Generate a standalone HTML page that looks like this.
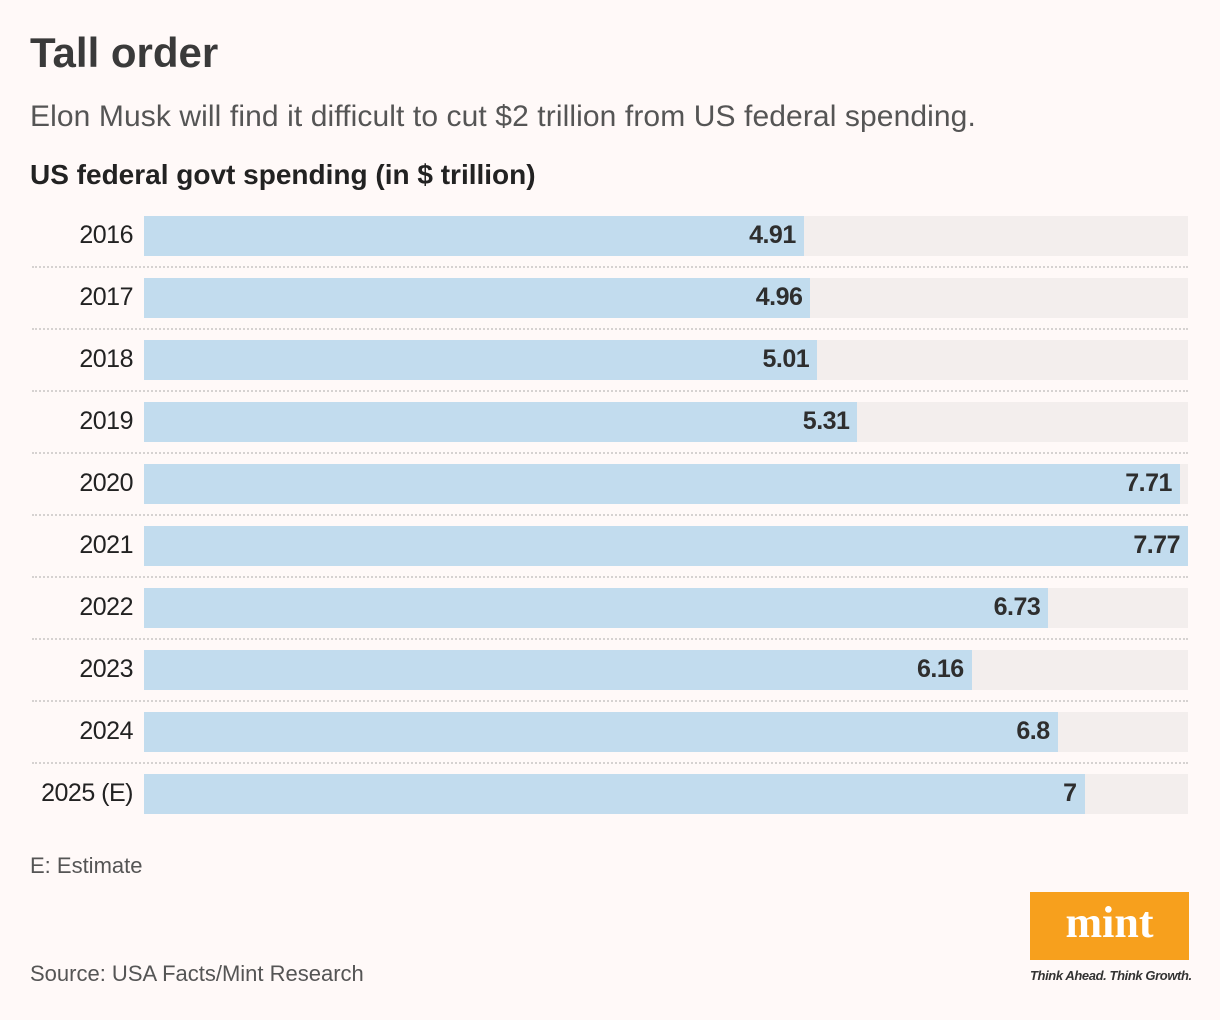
<!DOCTYPE html>
<html><head><meta charset="utf-8"><style>
body{margin:0;width:1220px;height:1020px;background:#fff9f8;font-family:"Liberation Sans",sans-serif;color:#333;position:relative;overflow:hidden}
.abs{position:absolute}
#title{left:30px;top:29px;font-size:42px;font-weight:bold;color:#3a3a3a;letter-spacing:0px}
#sub{left:30px;top:100px;font-size:30px;color:#555;letter-spacing:0.1px}
#ctitle{left:30px;top:159px;font-size:28px;font-weight:bold;color:#222;letter-spacing:0px}
.lab{position:absolute;right:1087px;font-size:25px;color:#222;text-align:right;white-space:nowrap;letter-spacing:-0.5px}
.track{position:absolute;left:144px;width:1044px;height:40px;background:#f3eeed}
.bar{position:absolute;left:144px;height:40px;background:#c2dcee}
.val{position:absolute;font-size:25px;font-weight:bold;color:#2e2e2e;text-align:right;letter-spacing:-0.5px}
.sep{position:absolute;left:32px;width:1156px;border-top:2px dotted #d6d2d1}
#note{left:30px;top:853px;font-size:22px;color:#555}
#src{left:30px;top:961px;font-size:22px;color:#555}
#logo{left:1030px;top:892px;width:159px;height:68px;background:#f7a01d;color:#fff;font-family:"Liberation Serif",serif;font-weight:bold;font-size:44px;text-align:center;line-height:62px}
#tag{left:1030px;top:968px;font-size:13px;font-style:italic;font-weight:bold;color:#333;letter-spacing:-0.4px}
</style></head><body>
<div id="title" class="abs">Tall order</div>
<div id="sub" class="abs">Elon Musk will find it difficult to cut $2 trillion from US federal spending.</div>
<div id="ctitle" class="abs">US federal govt spending (in $ trillion)</div>
<div id="chart"></div>
<div id="note" class="abs">E: Estimate</div>
<div id="src" class="abs">Source: USA Facts/Mint Research</div>
<div id="logo" class="abs">mint</div>
<div id="tag" class="abs">Think Ahead. Think Growth.</div>
<script>
const years=["2016","2017","2018","2019","2020","2021","2022","2023","2024","2025 (E)"];
const values=[4.91,4.96,5.01,5.31,7.71,7.77,6.73,6.16,6.8,7];
const valueLabels=["4.91","4.96","5.01","5.31","7.71","7.77","6.73","6.16","6.8","7"];
const maxV=Math.max(...values);
const x0=144,W=1044,top0=216,step=62;
function xs(v){return v/maxV*W;}
const c=document.getElementById('chart');
years.forEach((y,i)=>{
  const t=top0+i*step;
  const tr=document.createElement('div');tr.className='track';tr.style.top=t+'px';
  
  
  c.appendChild(tr);
  const b=document.createElement('div');b.className='bar';b.style.top=t+'px';b.style.width=xs(values[i])+'px';
  
  
  c.appendChild(b);
  const v=document.createElement('div');v.className='val';v.textContent=valueLabels[i];
  v.style.top=(t+5)+'px';v.style.right=(1220-(x0+xs(values[i]))+8)+'px';
  
  
  c.appendChild(v);
  const l=document.createElement('div');l.className='lab';l.textContent=y;l.style.top=(t+5)+'px';
  
  
  c.appendChild(l);
  if(i<years.length-1){const s=document.createElement('div');s.className='sep';s.style.top=(t+50)+'px';
  
  
  c.appendChild(s);}
});
</script>
</body></html>
